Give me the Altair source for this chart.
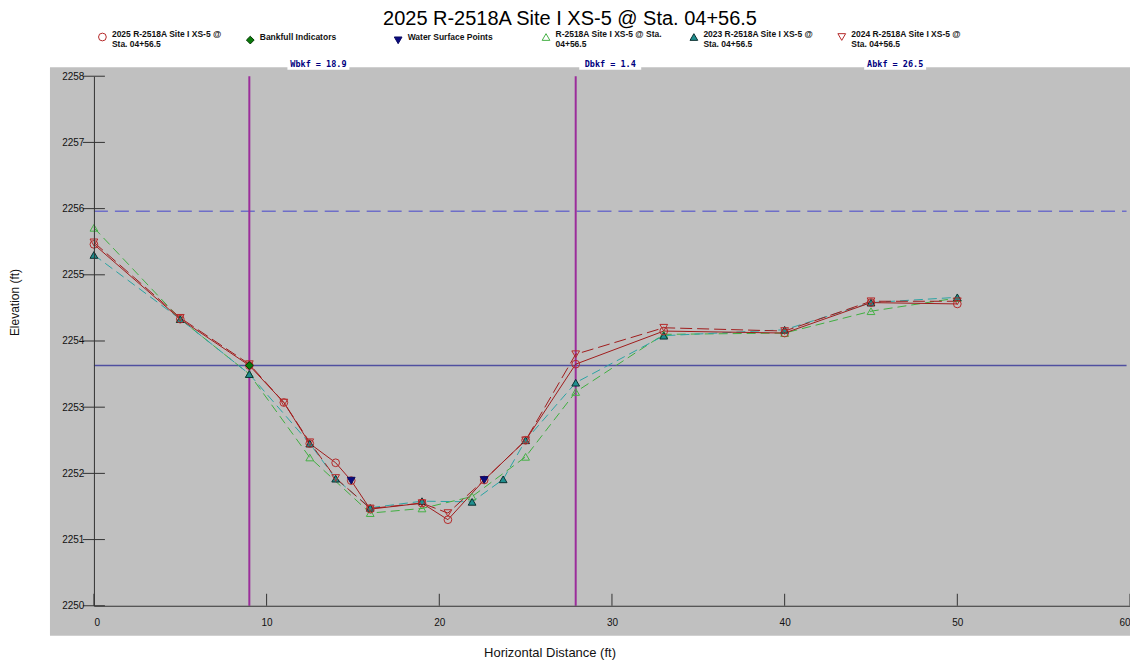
import altair as alt
import pandas as pd

TITLE = "2025 R-2518A Site I XS-5 @ Sta. 04+56.5"

# legend labels ("|" marks the line break)
S2025 = "2025 R-2518A Site I XS-5 @|Sta. 04+56.5"
SBF = "Bankfull Indicators"
SWS = "Water Surface Points"
SASB = "R-2518A Site I XS-5 @ Sta.|04+56.5"
S2023 = "2023 R-2518A Site I XS-5 @|Sta. 04+56.5"
S2024 = "2024 R-2518A Site I XS-5 @|Sta. 04+56.5"
legend_order = [S2025, SBF, SWS, SASB, S2023, S2024]

# survey data (horizontal distance ft, elevation ft)
x_2025 = [0, 5, 9.0, 11, 12.5, 14.0, 14.9, 16, 19, 20.5, 22.6, 25, 27.9, 33, 40, 45, 50]
y_2025 = [2255.46, 2254.33, 2253.63, 2253.07, 2252.45, 2252.16, 2251.89, 2251.46, 2251.55, 2251.30,
          2251.90, 2252.50, 2253.65, 2254.15, 2254.12, 2254.58, 2254.56]

x_2024 = [0, 5, 9.0, 11, 12.5, 14, 16, 19, 20.5, 22.6, 25, 27.9, 33, 40, 45, 50]
y_2024 = [2255.49, 2254.35, 2253.65, 2253.07, 2252.47, 2251.93, 2251.47, 2251.55, 2251.40, 2251.90,
          2252.50, 2253.80, 2254.20, 2254.15, 2254.60, 2254.60]

x_2023 = [0, 5, 9.0, 12.5, 14, 16, 19, 21.9, 23.7, 25, 27.9, 33, 40, 45, 50]
y_2023 = [2255.30, 2254.33, 2253.50, 2252.45, 2251.92, 2251.48, 2251.58, 2251.57, 2251.91, 2252.50,
          2253.37, 2254.08, 2254.17, 2254.58, 2254.66]

x_asb = [0, 5, 9.0, 12.5, 16, 19, 21.9, 25, 27.9, 33, 40, 45, 50]
y_asb = [2255.71, 2254.33, 2253.50, 2252.24, 2251.40, 2251.47, 2251.65, 2252.25, 2253.23, 2254.10,
         2254.12, 2254.45, 2254.65]

x_bf = [9.0]
y_bf = [2253.63]

x_ws = [14.9, 22.6]
y_ws = [2251.89, 2251.90]

# reference levels
bankfull_elev = 2253.63
floodprone_elev = 2255.96
level_x_start = 0
level_x_end = 59.8
bankfull_edges = [9.0, 27.9]

ann_labels = ["Wbkf = 18.9", "Dbkf = 1.4", "Abkf = 26.5"]
ann_x = [13.0, 29.9, 46.4]

x_ticks = [0, 10, 20, 30, 40, 50, 60]
y_ticks = [2250, 2251, 2252, 2253, 2254, 2255, 2256, 2257, 2258]

W, H = 1037, 530

# ---- tables ----
frames = []
for name, xs_, ys_ in [(SASB, x_asb, y_asb), (S2023, x_2023, y_2023), (S2024, x_2024, y_2024),
                       (S2025, x_2025, y_2025), (SBF, x_bf, y_bf), (SWS, x_ws, y_ws)]:
    frames.append(pd.DataFrame({"x": xs_, "y": ys_, "series": name}))
pts = pd.concat(frames, ignore_index=True)
pts["ord"] = range(len(pts))

xs = alt.Scale(domain=[0, 60], nice=False, zero=False)
ys = alt.Scale(domain=[2250, 2258], nice=False, zero=False)

one = pd.DataFrame({"a": [0]})

bg = alt.Chart(one).mark_rect(color="#c0c0c0").encode(
    x=alt.value(-44), x2=alt.value(W + 7), y=alt.value(-9), y2=alt.value(H + 30)
)

lvl = pd.DataFrame({"x": [level_x_start], "x2": [level_x_end], "yb": [bankfull_elev], "yf": [floodprone_elev]})
bf_line = alt.Chart(lvl).mark_rule(color="#4f4fa0", strokeWidth=1.5).encode(
    x=alt.X("x:Q", scale=xs), x2="x2:Q", y=alt.Y("yb:Q", scale=ys)
)
fp_line = alt.Chart(lvl).mark_rule(color="#6e6ec8", strokeWidth=1.5, strokeDash=[14, 7]).encode(
    x=alt.X("x:Q", scale=xs), x2="x2:Q", y=alt.Y("yf:Q", scale=ys)
)

vlines = alt.Chart(pd.DataFrame({"x": bankfull_edges})).mark_rule(color="#9b2d9b", strokeWidth=2).encode(
    x=alt.X("x:Q", scale=xs), y=alt.value(0), y2=alt.value(H)
)

yt = alt.Chart(pd.DataFrame({"y": y_ticks})).mark_rule(color="#333333", strokeWidth=1).encode(
    y=alt.Y("y:Q", scale=ys), x=alt.value(-11), x2=alt.value(11)
)
xt = alt.Chart(pd.DataFrame({"x": x_ticks})).mark_rule(color="#333333", strokeWidth=1).encode(
    x=alt.X("x:Q", scale=xs), y=alt.value(H - 12), y2=alt.value(H)
)

line_styles = [
    (SASB, "#3fae3f", [9, 5]),
    (S2023, "#2aa3a3", [9, 5]),
    (S2024, "#a01c1c", [12, 5]),
    (S2025, "#a01c1c", None),
]
lines = []
for name, col, dash in line_styles:
    kw = dict(color=col, strokeWidth=1)
    if dash:
        kw["strokeDash"] = dash
    lines.append(
        alt.Chart(pts).transform_filter(alt.datum.series == name).mark_line(**kw).encode(
            x=alt.X("x:Q", scale=xs), y=alt.Y("y:Q", scale=ys), order="ord:Q"
        )
    )

leg = alt.Legend(
    orient="none", legendX=4, legendY=-44, direction="horizontal", columns=6, gridAlign="all",
    columnPadding=22, symbolSize=60, symbolStrokeWidth=1, padding=0, labelOffset=5,
    labelFontSize=8.5, labelFont="Liberation Sans",
    labelFontWeight="bold", labelColor="#111111", labelLimit=300, labelBaseline="alphabetic",
    labelExpr="split(datum.label, '|')", title=None, symbolOpacity=1,
)

shape_range = ["circle", "diamond", "triangle-down", "triangle-up", "triangle-up", "triangle-down"]
fill_range = ["transparent", "#0a7a0a", "#0a0a80", "transparent", "#1f8f8f", "transparent"]
stroke_range = ["#b52a2a", "#033803", "#0a0a60", "#45b045", "#0b3030", "#b52a2a"]

points = alt.Chart(pts).mark_point(size=60, strokeWidth=1, opacity=1).encode(
    x=alt.X("x:Q", scale=xs, title="Horizontal Distance (ft)",
            axis=alt.Axis(values=x_ticks, format="d", ticks=False, grid=False, domainColor="#333333",
                          labelPadding=12, labelFontSize=10, labelColor="#111111", labelFont="Liberation Sans",
                          titleFont="Liberation Sans", titleFontSize=13, titleFontWeight="normal",
                          titleColor="#111111", titleX=456, titleY=47, titleBaseline="middle", zindex=1)),
    y=alt.Y("y:Q", scale=ys, title="Elevation (ft)",
            axis=alt.Axis(values=y_ticks, format="d", ticks=False, grid=False, domainColor="#333333",
                          labelPadding=10, labelFontSize=10, labelColor="#111111", labelFont="Liberation Sans",
                          titleFont="Liberation Sans", titleFontSize=12, titleFontWeight="normal",
                          titleColor="#111111", titleX=-79, titleY=226, titleBaseline="middle", zindex=1)),
    shape=alt.Shape("series:N", scale=alt.Scale(domain=legend_order, range=shape_range), legend=leg),
    fill=alt.Fill("series:N", scale=alt.Scale(domain=legend_order, range=fill_range), legend=leg),
    stroke=alt.Stroke("series:N", scale=alt.Scale(domain=legend_order, range=stroke_range), legend=leg),
    order="ord:Q",
)

ann_df = pd.DataFrame({"x": ann_x, "label": ann_labels})
ann_box = alt.Chart(ann_df).mark_rect(color="white", width=62, height=11).encode(
    x=alt.X("x:Q", scale=xs), y=alt.value(-12)
)
ann = alt.Chart(ann_df).mark_text(
    font="DejaVu Sans Mono", fontSize=8.5, fontWeight="bold", color="#000080", align="center",
    baseline="alphabetic"
).encode(x=alt.X("x:Q", scale=xs), y=alt.value(-9), text="label:N")

chart = alt.layer(bg, fp_line, bf_line, vlines, yt, xt, *lines, points, ann_box, ann).properties(
    width=W, height=H,
    title=alt.TitleParams(TITLE, font="Liberation Sans", fontSize=20, fontWeight="normal", color="#000000",
                          anchor="middle", frame="group", dx=-42, offset=3),
    autosize=alt.AutoSizeParams(type="none"),
    padding={"left": 86, "top": 68, "right": 0, "bottom": 56},
).configure_view(stroke=None).configure(background="white")

chart.save("out.html", embed_options={"renderer": "svg", "actions": False})
